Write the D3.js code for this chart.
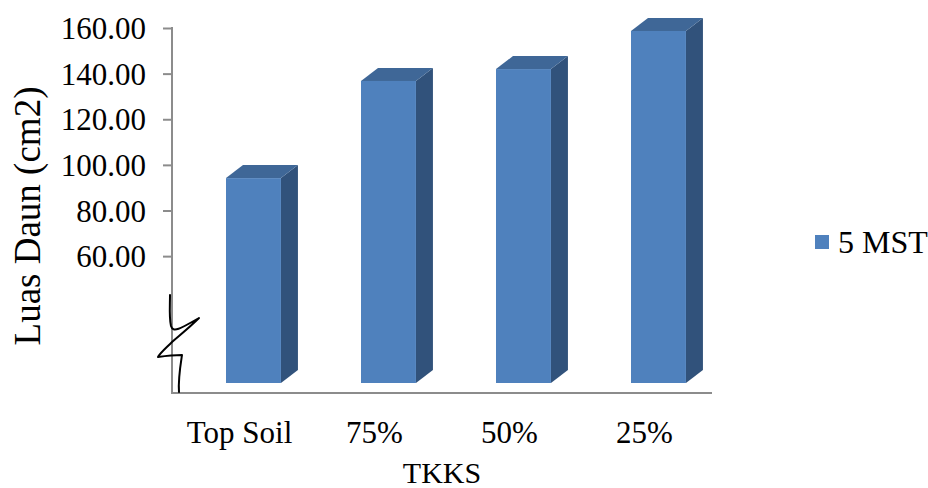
<!DOCTYPE html>
<html>
<head>
<meta charset="utf-8">
<script src="https://cdn.jsdelivr.net/npm/d3@7"></script>
<style>
  html, body { margin: 0; padding: 0; background: #fff; }
  svg text { font-family: "Liberation Serif", "Times New Roman", serif; fill: #000; }
</style>
</head>
<body>
<svg id="chart" width="928" height="488"></svg>
<script>
// Leaf area (cm2) at 5 weeks after planting, by TKKS level
const categories = ["Top Soil", "75%", "50%", "25%"];
const seriesName = "5 MST";
const values = [94.2, 136.8, 142.0, 158.7];
const tickValues = [60, 80, 100, 120, 140, 160];

const svg = d3.select("#chart");

const plot = { left: 172, right: 712, top: 28, bottom: 393 };
const x = d3.scaleBand().domain(categories).range([plot.left, plot.right]).padding(0);
const y = d3.scaleLinear().domain([0, 160]).range([plot.bottom, plot.top]);

// 3D extrusion of the columns
const depthX = 17, depthY = 13, lift = 10;
const colFront = "#4F81BD", colTop = "#3F6797", colSide = "#31527B";

// value axis (lower part hidden behind the break mark)
const yAxis = d3.axisLeft(y).tickValues(tickValues).tickSize(9).tickPadding(17)
  .tickFormat(d3.format(".2f"));
const gy = svg.append("g").attr("transform", `translate(${plot.left},0)`).call(yAxis);
gy.attr("font-family", null).attr("font-size", null);
gy.select(".domain").remove();
gy.selectAll(".tick line").attr("stroke", "#8c8c8c").attr("stroke-width", 2);
gy.selectAll(".tick text").attr("font-size", 31).attr("dy", "0.34em");

svg.append("line")
  .attr("x1", plot.left).attr("x2", plot.left)
  .attr("y1", y(160) - 1).attr("y2", y(0))
  .attr("stroke", "#8c8c8c").attr("stroke-width", 2);
svg.append("line")
  .attr("x1", plot.left - 1).attr("x2", plot.right)
  .attr("y1", y(0)).attr("y2", y(0))
  .attr("stroke", "#8c8c8c").attr("stroke-width", 2);

// columns
const bw = x.bandwidth();
const bars = svg.append("g").selectAll("g").data(values).join("g");
bars.each(function (v, i) {
  const g = d3.select(this);
  const x0 = x(categories[i]) + bw * 0.4;
  const x1 = x0 + bw * 0.407;
  const yt = y(v), yb = y(0) - lift;
  // side face
  g.append("path")
    .attr("d", `M${x1},${yt}L${x1 + depthX},${yt - depthY}L${x1 + depthX},${yb - depthY}L${x1},${yb}Z`)
    .attr("fill", colSide);
  // top face
  g.append("path")
    .attr("d", `M${x0},${yt}L${x0 + depthX},${yt - depthY}L${x1 + depthX},${yt - depthY}L${x1},${yt}Z`)
    .attr("fill", colTop);
  // front face
  g.append("rect")
    .attr("x", x0).attr("y", yt).attr("width", x1 - x0).attr("height", yb - yt)
    .attr("fill", colFront);
});

// category labels
svg.append("g").selectAll("text").data(categories).join("text")
  .attr("x", d => x(d) + bw / 2)
  .attr("y", 443)
  .attr("text-anchor", "middle")
  .attr("font-size", 31)
  .text(d => d);

// axis titles
svg.append("text")
  .attr("x", (plot.left + plot.right) / 2)
  .attr("y", 483)
  .attr("text-anchor", "middle")
  .attr("font-size", 30)
  .text("TKKS");

svg.append("text")
  .attr("transform", "translate(40,216) rotate(-90)")
  .attr("text-anchor", "middle")
  .attr("font-size", 37)
  .text("Luas Daun (cm2)");

// axis break mark
svg.append("path")
  .attr("d", "M170,295 C170,305 169,318 171,326 C173,333 180,329 199,318 C190,327 180,335 172,342 C166,348 160,353 158,357 C165,356 175,355 182,355 C180,368 178,380 179,392")
  .attr("fill", "none").attr("stroke", "#000").attr("stroke-width", 2)
  .attr("stroke-linejoin", "round").attr("stroke-linecap", "round");

// legend
const lg = svg.append("g").attr("transform", "translate(815,235)");
lg.append("rect").attr("width", 14).attr("height", 14).attr("fill", colFront);
lg.append("text").attr("x", 23).attr("y", 18).attr("font-size", 32).text(seriesName);
</script>
</body>
</html>
